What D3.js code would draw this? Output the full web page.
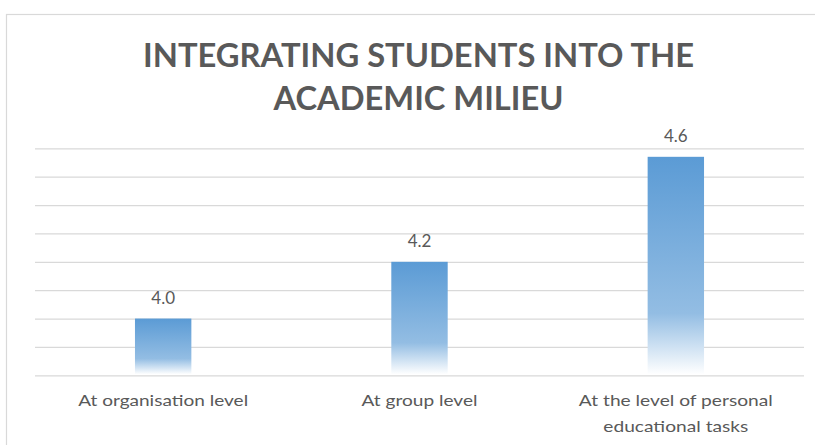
<!DOCTYPE html>
<html>
<head>
<meta charset="utf-8">
<script src="https://cdn.jsdelivr.net/npm/d3@7/dist/d3.min.js"></script>
<style>
  html, body { margin: 0; padding: 0; background: #fff; }
  svg { display: block; }
  text { font-family: Lato, "Open Sans", "Liberation Sans", sans-serif; }
</style>
</head>
<body>
<svg id="chart" width="815" height="445"></svg>
<script>
// ---- data ----
const titleLines = ["INTEGRATING STUDENTS INTO THE", "ACADEMIC MILIEU"];
const categories = [
  ["At organisation level"],
  ["At group level"],
  ["At the level of personal", "educational tasks"]
];
const values = [4.0, 4.2, 4.57];
const valueLabels = ["4.0", "4.2", "4.6"];
const gridTicks = [3.8, 3.9, 4.0, 4.1, 4.2, 4.3, 4.4, 4.5, 4.6];

// ---- layout ----
const W = 815, H = 445;
const plot = { left: 35, right: 804, top: 148.3, bottom: 375.3 };
const svg = d3.select("#chart");

// chart frame
svg.append("rect")
  .attr("x", 6.5).attr("y", 14.5)
  .attr("width", W + 10).attr("height", H + 10)
  .attr("fill", "#fff").attr("stroke", "#d9d9d9").attr("stroke-width", 1.2);

const x = d3.scaleBand()
  .domain(categories.map((d, i) => i))
  .range([plot.left, plot.right])
  .paddingInner(0.78).paddingOuter(0.39);

const y = d3.scaleLinear()
  .domain([gridTicks[0], gridTicks[gridTicks.length - 1]])
  .range([plot.bottom, plot.top]);

// gradient
const defs = svg.append("defs");
const grad = defs.append("linearGradient")
  .attr("id", "barGrad").attr("x1", 0).attr("y1", 0).attr("x2", 0).attr("y2", 1);
grad.append("stop").attr("offset", "0%").attr("stop-color", "#5b9bd5");
grad.append("stop").attr("offset", "72%").attr("stop-color", "#93bde3");
grad.append("stop").attr("offset", "100%").attr("stop-color", "#ffffff");

// gridlines via axis
const grid = svg.append("g")
  .attr("transform", `translate(${plot.left},0)`)
  .call(d3.axisRight(y).tickValues(gridTicks).tickSize(plot.right - plot.left).tickFormat(""));
grid.select(".domain").remove();
grid.selectAll(".tick line").attr("stroke", "#d9d9d9").attr("stroke-width", 1.3);

// bars
svg.append("g").selectAll("rect")
  .data(values)
  .join("rect")
  .attr("x", (d, i) => x(i))
  .attr("y", d => y(d))
  .attr("width", x.bandwidth())
  .attr("height", d => y(gridTicks[0]) - y(d) - 1)
  .attr("fill", "url(#barGrad)");

// value labels
svg.append("g").selectAll("text")
  .data(values)
  .join("text")
  .attr("x", (d, i) => x(i) + x.bandwidth() / 2)
  .attr("y", d => y(d) - 15)
  .attr("text-anchor", "middle")
  .attr("font-size", 17)
  .attr("fill", "#595959")
  .text((d, i) => valueLabels[i]);

// category labels
const catWidths = [[170], [116], [194, 145]];
const catG = svg.append("g");
categories.forEach((lines, i) => {
  lines.forEach((ln, j) => {
    const t = catG.append("text")
      .attr("x", x(i) + x.bandwidth() / 2)
      .attr("y", 405.5 + j * 26.5)
      .attr("text-anchor", "middle")
      .attr("font-size", 16)
      .attr("fill", "#595959")
      .text(ln);
    const len = t.node().getComputedTextLength();
    const target = catWidths[i][j];
    if (Math.abs(len - target) > 2) {
      t.attr("textLength", target).attr("lengthAdjust", "spacingAndGlyphs");
    }
  });
});

// title
const titleWidths = [551, 290];
titleLines.forEach((ln, j) => {
  const t = svg.append("text")
    .attr("x", 418.5)
    .attr("y", 67 + j * 43)
    .attr("text-anchor", "middle")
    .attr("font-size", 33)
    .attr("font-weight", "bold")
    .attr("fill", "#595959")
    .text(ln);
  const len = t.node().getComputedTextLength();
  if (Math.abs(len - titleWidths[j]) > 2) {
    t.attr("textLength", titleWidths[j]).attr("lengthAdjust", "spacingAndGlyphs");
  }
});
</script>
</body>
</html>
